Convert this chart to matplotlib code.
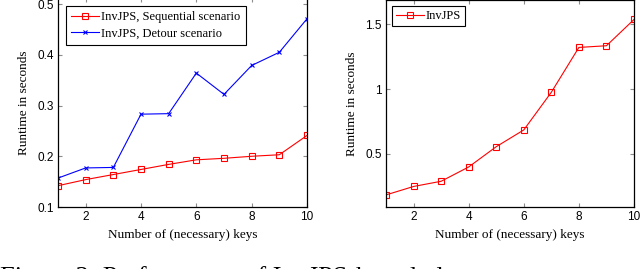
import matplotlib.pyplot as plt
import numpy as np

# data
keys = [1, 2, 3, 4, 5, 6, 7, 8, 9, 10]
sequential = [0.142, 0.154, 0.164, 0.174, 0.184, 0.193, 0.196, 0.200, 0.203, 0.241]
detour = [0.157, 0.177, 0.178, 0.283, 0.284, 0.364, 0.322, 0.379, 0.405, 0.471]
invjps = [0.185, 0.25, 0.29, 0.40, 0.556, 0.685, 0.975, 1.32, 1.333, 1.535]

serif = "Liberation Serif"
sans = "Liberation Sans"

fig = plt.figure(figsize=(6.4, 2.69), dpi=100)
ax1 = fig.add_axes([58/640, 62/269, 249/640, 209/269])
ax2 = fig.add_axes([386/640, 62/269, 248/640, 207/269])


def style(ax):
    ax.set_xlim(1, 10)
    ax.set_xticks([2, 4, 6, 8, 10])
    ax.tick_params(direction="in", top=True, right=True, length=3,
                   color="0.55", width=0.8, labelsize=8.5, pad=3)
    for lab in ax.get_xticklabels() + ax.get_yticklabels():
        lab.set_fontfamily(sans)
    for s in ax.spines.values():
        s.set_linewidth(0.9)
    ax.set_xlabel("Number of (necessary) keys", fontfamily=serif, fontsize=9.5, labelpad=4)
    ax.set_ylabel("Runtime in seconds", fontfamily=serif, fontsize=9.5, labelpad=5)


ax1.plot(keys, sequential, color="red", lw=0.8, marker="s", ms=4.5, mfc="none",
         mew=0.8, label="InvJPS, Sequential scenario")
ax1.plot(keys, detour, color="blue", lw=0.8, marker="x", ms=3.5, mew=0.8,
         label="InvJPS, Detour scenario")
ax1.set_ylim(0.1, 0.512)
ax1.set_yticks([0.1, 0.2, 0.3, 0.4, 0.5])
ax1.set_yticklabels(["0.1", "0.2", "0.3", "0.4", "0.5"])
style(ax1)
ax1.legend(loc="upper left", prop={"family": serif, "size": 9}, fancybox=False,
           edgecolor="black", framealpha=1, handlelength=2.2, borderpad=0.45,
           labelspacing=0.35, handletextpad=0.2, borderaxespad=0.6).get_frame().set_linewidth(0.8)

ax2.plot(keys, invjps, color="red", lw=0.8, marker="s", ms=4.5, mfc="none",
         mew=0.8, label="InvJPS")
ax2.set_ylim(0.092, 1.685)
ax2.set_yticks([0.5, 1, 1.5])
ax2.set_yticklabels(["0.5", "1", "1.5"])
style(ax2)
ax2.legend(loc="upper left", prop={"family": serif, "size": 9}, fancybox=False,
           edgecolor="black", framealpha=1, handlelength=2.2, borderpad=0.3,
           handletextpad=0.2, borderaxespad=0.5).get_frame().set_linewidth(0.8)

# caption, cut by the lower edge as in the source crop
fig.text(0.0, -0.075, "Figure 3: Performance of InvJPS-based planners", fontfamily=serif,
         fontsize=19, va="bottom", ha="left")

fig.savefig("out.png", dpi=100)
